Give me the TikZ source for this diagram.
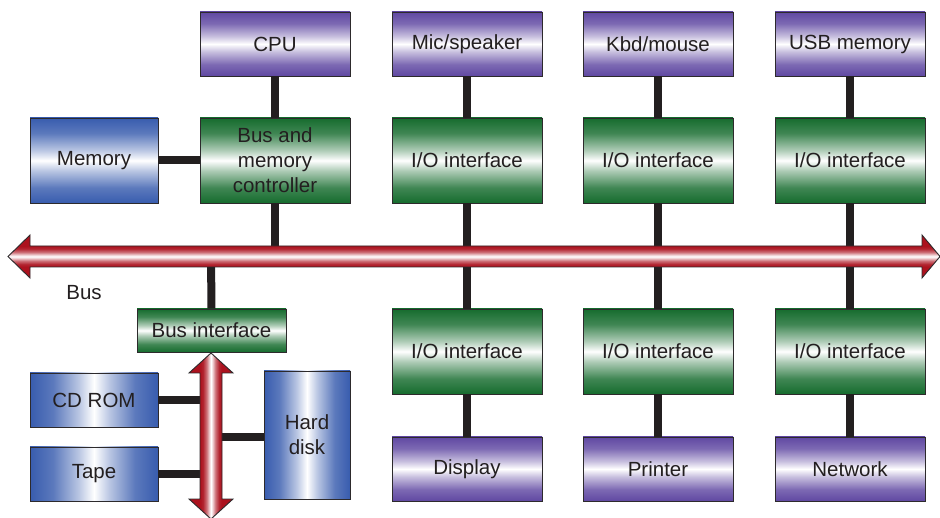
\documentclass[tikz,border=0pt]{standalone}
\usepackage{fontspec}
\setmainfont{Liberation Sans}

\definecolor{txt}{RGB}{35,31,32}
\definecolor{edge}{RGB}{45,42,44}
\definecolor{purp}{RGB}{96,72,162}
\definecolor{grn}{RGB}{22,108,46}
\definecolor{blu}{RGB}{56,92,174}
\definecolor{bred}{RGB}{172,18,30}

% dark edge -> white centre -> dark edge (path fills the 25bp..75bp band)
\pgfdeclareverticalshading{purpv}{100bp}{color(0bp)=(purp); color(25bp)=(purp);
  color(34bp)=(purp!82!white); color(44bp)=(purp!35!white); color(50bp)=(white);
  color(56bp)=(purp!35!white); color(66bp)=(purp!82!white); color(75bp)=(purp); color(100bp)=(purp)}
\pgfdeclareverticalshading{grnv}{100bp}{color(0bp)=(grn); color(25bp)=(grn);
  color(34bp)=(grn!82!white); color(44bp)=(grn!35!white); color(50bp)=(white);
  color(56bp)=(grn!35!white); color(66bp)=(grn!82!white); color(75bp)=(grn); color(100bp)=(grn)}
\pgfdeclareverticalshading{bluv}{100bp}{color(0bp)=(blu); color(25bp)=(blu);
  color(34bp)=(blu!82!white); color(44bp)=(blu!35!white); color(50bp)=(white);
  color(56bp)=(blu!35!white); color(66bp)=(blu!82!white); color(75bp)=(blu); color(100bp)=(blu)}
\pgfdeclarehorizontalshading{bluh}{100bp}{color(0bp)=(blu); color(25bp)=(blu);
  color(34bp)=(blu!82!white); color(44bp)=(blu!35!white); color(50bp)=(white);
  color(56bp)=(blu!35!white); color(66bp)=(blu!82!white); color(75bp)=(blu); color(100bp)=(blu)}
% bus bars: the shaft spans only about 37.5bp..62.5bp of the arrow's box
\pgfdeclareverticalshading{redv}{100bp}{color(0bp)=(bred); color(38bp)=(bred);
  color(41bp)=(bred!92!white); color(45bp)=(bred!60!white); color(48.5bp)=(bred!15!white); color(50bp)=(white);
  color(51.5bp)=(bred!15!white); color(55bp)=(bred!60!white); color(59bp)=(bred!92!white); color(62bp)=(bred); color(100bp)=(bred)}
\pgfdeclarehorizontalshading{redh}{100bp}{color(0bp)=(bred); color(38bp)=(bred);
  color(41bp)=(bred!92!white); color(45bp)=(bred!60!white); color(48.5bp)=(bred!15!white); color(50bp)=(white);
  color(51.5bp)=(bred!15!white); color(55bp)=(bred!60!white); color(59bp)=(bred!92!white); color(62bp)=(bred); color(100bp)=(bred)}

\begin{document}
\begin{tikzpicture}[x=1pt,y=-1pt,
  font=\fontsize{20.5}{25}\selectfont,
  every node/.style={text=txt, align=center, inner sep=0pt},
  box/.style={draw=edge, line width=0.9pt},
  dev/.style={box, shading=purpv, minimum width=150pt, minimum height=64pt},
  ctl/.style={box, shading=grnv, minimum width=150pt, minimum height=85pt},
  stor/.style={box, shading=bluv},
  sideways/.style={box, shading=bluh},
  wire/.style={draw=txt, line width=8pt},
  busbar/.style={draw=edge, line width=0.9pt},
]

\useasboundingbox (0,0) rectangle (940,518);

% top row: devices
\node[dev] (cpu) at (275,44) {CPU};
\node[dev] (mic) at (467,44) {Mic/speaker};
\node[dev] (kbd) at (658,44) {Kbd/mouse};
\node[dev] (usb) at (850,44) {USB memory};

% controllers above the bus
\node[ctl] (ctrl) at (275,160.5) {Bus and\\memory\\controller};
\node[ctl] (ioa) at (467,160.5) {I/O interface};
\node[ctl] (iob) at (658,160.5) {I/O interface};
\node[ctl] (ioc) at (850,160.5) {I/O interface};
\node[stor, minimum width=128pt, minimum height=85pt] (mem) at (94,160.5) {Memory};

% controllers below the bus
\node[ctl] (iod) at (467,351.5) {I/O interface};
\node[ctl] (ioe) at (658,351.5) {I/O interface};
\node[ctl] (iof) at (850,351.5) {I/O interface};
\node[ctl, minimum width=149pt, minimum height=43pt] (bi) at (211.5,330.5) {Bus interface};

% bottom row: devices
\node[dev] (disp) at (467,469) {Display};
\node[dev] (prn) at (658,469) {Printer};
\node[dev] (net) at (850,469) {Network};

% storage on the secondary bus
\node[sideways, minimum width=128pt, minimum height=54pt] (cd) at (94,400) {CD ROM};
\node[sideways, minimum width=128pt, minimum height=54pt] (tape) at (94,474) {Tape};
\node[sideways, minimum width=86pt, minimum height=128pt] (hd) at (307,435) {Hard\\disk};

\node (buslbl) at (84,293) {Bus};

% attachment points on the two buses
\coordinate (busc) at (275,256.5);
\coordinate (busb) at (211,256.5);
\coordinate (vb) at (211,437);

% wiring (the buses are painted over it afterwards)
\path[wire] (cpu.south) -- (ctrl.north);
\path[wire] (mem.east) -- (ctrl.west);
\path[wire] (ctrl.south) -- (busc);
\path[wire] (bi.north) -- (busb);
\path[wire] (mic.south) -- (ioa.north);
\path[wire] (kbd.south) -- (iob.north);
\path[wire] (usb.south) -- (ioc.north);
\path[wire] (ioa.south) -- (iod.north);
\path[wire] (iob.south) -- (ioe.north);
\path[wire] (ioc.south) -- (iof.north);
\path[wire] (iod.south) -- (disp.north);
\path[wire] (ioe.south) -- (prn.north);
\path[wire] (iof.south) -- (net.north);
\path[wire] (cd.east) -- (cd.east -| vb);
\path[wire] (tape.east) -- (tape.east -| vb);
\path[wire] (hd.west |- vb) -- (vb);

% main system bus
\shadedraw[busbar, shading=redv]
  (8,256.5) -- (30,235) -- (30,246) -- (922,246) -- (922,235) -- (940,256.5)
  -- (922,278) -- (922,267) -- (30,267) -- (30,278) -- cycle;

% secondary bus below the bus interface
\shadedraw[busbar, shading=redh]
  (211,353) -- (233,373) -- (222,373) -- (222,499) -- (233,499) -- (211,519)
  -- (189,499) -- (200,499) -- (200,373) -- (189,373) -- cycle;
\end{tikzpicture}
\end{document}
